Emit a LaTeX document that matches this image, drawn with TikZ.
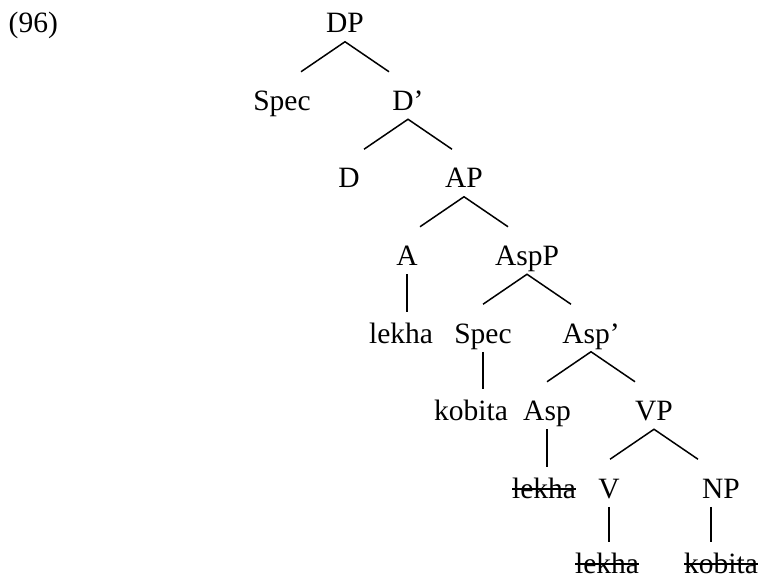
\documentclass[tikz,border=0pt]{standalone}
\usepackage{fontspec}
\setmainfont{Liberation Serif}
\newcommand\strk[1]{\setbox0\hbox{#1}\rlap{\rule[8.5pt]{\wd0}{1.6pt}}#1}
\begin{document}
\begin{tikzpicture}[x=1pt,y=-1pt,line width=1.5pt,
  cat/.style={inner sep=0pt,text height=19pt,text depth=8pt,anchor=base,
    font=\fontsize{29.5}{34}\selectfont},
  leaf/.style={cat,text depth=1pt}]
 \useasboundingbox (0,0) rectangle (762,577);
 \node[cat,anchor=base west] (ex) at (8,33) {(96)};
 \node[cat] (DP) at (345,33) {DP};
 \node[cat] (Spec1) at (282,110.5) {Spec};
 \node[cat] (Dbar) at (408,110.5) {D’};
 \node[cat] (D) at (349,188) {D};
 \node[cat] (AP) at (464,188) {AP};
 \node[cat] (A) at (407,265.5) {A};
 \node[cat] (AspP) at (527,265.5) {AspP};
 \node[cat] (lekhaA) at (401,343) {lekha};
 \node[cat] (Spec2) at (483,343) {Spec};
 \node[cat] (Aspbar) at (591,343) {Asp’};
 \node[cat] (kobitaS) at (471,420.5) {kobita};
 \node[cat] (Asp) at (547,420.5) {Asp};
 \node[cat] (VP) at (654,420.5) {VP};
 \node[cat] (lekhaAsp) at (544,498) {\strk{lekha}};
 \node[cat] (V) at (609,498) {V};
 \node[cat] (NP) at (721,498) {NP};
 \node[leaf] (lekhaV) at (607,573) {\strk{lekha}};
 \node[leaf] (kobitaN) at (721,573) {\strk{kobita}};
 \foreach \p in {DP,Dbar,AP,AspP,Aspbar,VP}
  \draw ([shift={(-44,30)}]\p.south) -- (\p.south) -- ++(44,30);
 \foreach \p/\c in {A/lekhaA,Spec2/kobitaS,Asp/lekhaAsp,V/lekhaV}
  \draw[shorten >=11.5pt] (\p.south) -- (\p.south |- \c.north);
 \draw[shorten >=11.5pt] ([xshift=-10pt]NP.south) -- ([xshift=-10pt]NP.south |- kobitaN.north);
\end{tikzpicture}
\end{document}
